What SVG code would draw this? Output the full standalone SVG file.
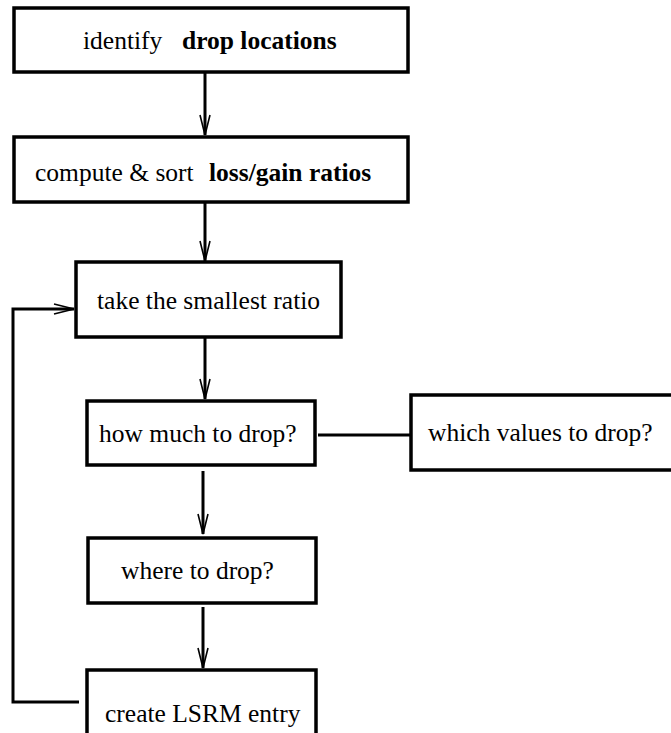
<svg xmlns="http://www.w3.org/2000/svg" width="671" height="733" viewBox="0 0 671 733">
  <style>
    .box { fill: #fff; stroke: #000; stroke-width: 3.5; }
    .edge { fill: none; stroke: #000; stroke-width: 3; }
    .lbl { font-family: 'Liberation Serif', Tinos, 'Times New Roman', Times, 'DejaVu Serif', serif; font-size: 25.5px; fill: #000; }
    .b { font-weight: bold; }
  </style>
  <defs>
    <marker id="vee" markerUnits="userSpaceOnUse" markerWidth="24" markerHeight="14" viewBox="-22 -7 24 14" refX="0" refY="0" orient="auto">
      <path d="M-20,-5 L0,0 L-20,5" fill="none" stroke="#000" stroke-width="1.6"/>
    </marker>
  </defs>
  <rect width="671" height="733" fill="#fff"/>

  <g id="connectors">
    <line class="edge" x1="205" y1="72" x2="205" y2="135" marker-end="url(#vee)"/>
    <line class="edge" x1="205" y1="202" x2="205" y2="261" marker-end="url(#vee)"/>
    <line class="edge" x1="205" y1="337" x2="205" y2="399" marker-end="url(#vee)"/>
    <line class="edge" x1="203" y1="471" x2="203" y2="534" marker-end="url(#vee)"/>
    <line class="edge" x1="203" y1="607" x2="203" y2="668" marker-end="url(#vee)"/>
    <line class="edge" x1="318" y1="435" x2="411" y2="435"/>
    <polyline class="edge" points="79,702 13,702 13,309 74,309" marker-end="url(#vee)"/>
  </g>

  <g id="identify">
    <rect class="box" x="14" y="8" width="394" height="64"/>
    <text class="lbl" y="49"><tspan x="83">identify</tspan><tspan class="b" x="182">drop locations</tspan></text>
  </g>

  <g id="compute">
    <rect class="box" x="14" y="137" width="394" height="65"/>
    <text class="lbl" y="181"><tspan x="35">compute &amp; sort</tspan><tspan class="b" x="209">loss/gain ratios</tspan></text>
  </g>

  <g id="take">
    <rect class="box" x="76" y="262" width="265" height="75"/>
    <text class="lbl" x="97" y="309">take the smallest ratio</text>
  </g>

  <g id="howmuch">
    <rect class="box" x="87" y="401" width="228" height="64"/>
    <text class="lbl" x="99" y="442">how much to drop?</text>
  </g>

  <g id="which">
    <rect class="box" x="411" y="395" width="270" height="75"/>
    <text class="lbl" x="428" y="441">which values to drop?</text>
  </g>

  <g id="where">
    <rect class="box" x="88" y="538" width="228" height="65"/>
    <text class="lbl" x="121" y="579">where to drop?</text>
  </g>

  <g id="create">
    <rect class="box" x="87" y="670" width="229" height="80"/>
    <text class="lbl" x="105" y="722">create LSRM entry</text>
  </g>
</svg>
